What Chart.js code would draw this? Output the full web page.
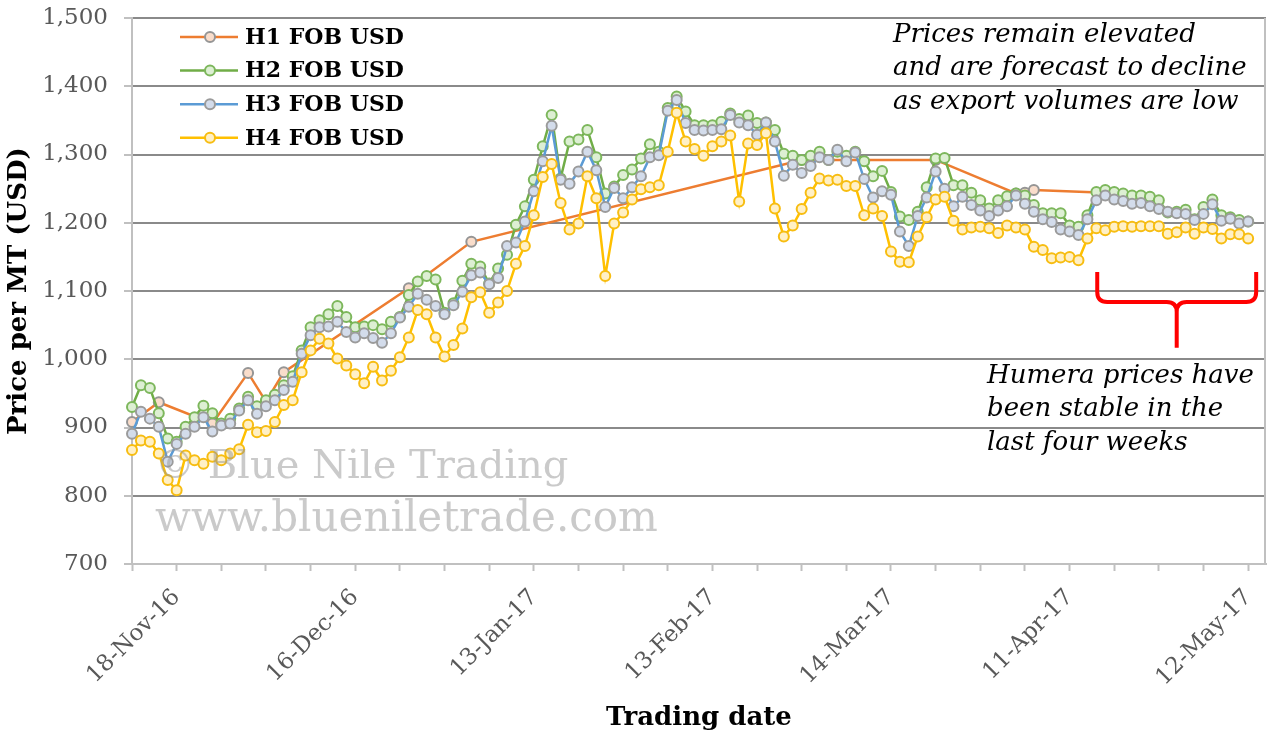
<!DOCTYPE html>
<html lang="en">
<head>
<meta charset="UTF-8">
<title>Humera sesame FOB prices</title>
<script src="https://cdn.jsdelivr.net/npm/chart.js"></script>
<style>
  html, body { margin: 0; padding: 0; background: #fff; }
  #wrap { width: 1273px; height: 738px; }
</style>
</head>
<body>
<div id="wrap"><canvas id="priceChart" width="1273" height="738"></canvas></div>
<script>
// trading day index 0 = 11-Nov-16, one slot per trading day
const lastDay = 127;
const tickMarks = [0, 5, 10, 15, 20, 25, 30, 35, 40, 45, 50, 55, 60, 65, 70, 75, 80, 85, 90, 95, 100, 105, 110, 115, 120, 125];
const tickDays = [5, 25, 45, 65, 85, 105, 125];
const tickLabels = ['18-Nov-16', '16-Dec-16', '13-Jan-17', '13-Feb-17', '14-Mar-17', '11-Apr-17', '12-May-17'];

const seriesNames = ['H1 FOB USD', 'H2 FOB USD', 'H3 FOB USD', 'H4 FOB USD'];

// H1 only trades on some days
const h1Days = [0, 3, 9, 13, 15, 17, 31, 38, 75, 90, 99, 100, 101, 109];
const h1 = [908, 937, 906, 980, 938, 981, 1104, 1172, 1292, 1292, 1243, 1244, 1248, 1244];

const h2 = [
  930, 962, 958, 921, 884, 879, 901, 915, 932, 921,
  906, 913, 928, 945, 931, 940, 948, 962, 975, 1013,
  1047, 1057, 1066, 1078, 1062, 1047, 1048, 1050, 1044, 1055,
  1062, 1094, 1114, 1122, 1117, 1068, 1082, 1115, 1140, 1136,
  1111, 1133, 1153, 1197, 1224, 1263, 1312, 1358, 1265, 1319,
  1322, 1336, 1296, 1243, 1253, 1270, 1278, 1294, 1315, 1304,
  1368, 1385, 1363, 1343, 1343, 1343, 1348, 1360, 1352, 1357,
  1346, 1347, 1336, 1301, 1298, 1292, 1298, 1304, 1292, 1304,
  1298, 1304, 1290, 1268, 1276, 1245, 1209, 1204, 1216, 1252,
  1294, 1295, 1255, 1255, 1244, 1233, 1221, 1233, 1239, 1243,
  1240, 1226, 1214, 1214, 1214, 1196, 1194, 1211, 1245, 1248,
  1245, 1243, 1240, 1240, 1238, 1233, 1215, 1216, 1219, 1205,
  1223, 1234, 1211, 1208, 1204, 1202
];

const h3 = [
  891, 923, 913, 901, 850, 876, 891, 901, 915, 894,
  903, 906, 925, 940, 920, 931, 940, 955, 967, 1008,
  1035, 1047, 1048, 1055, 1040, 1032, 1038, 1031, 1024, 1038,
  1061, 1077, 1096, 1087, 1078, 1066, 1079, 1099, 1123, 1127,
  1110, 1119, 1166, 1171, 1202, 1246, 1290, 1342, 1263, 1257,
  1275, 1304, 1277, 1223, 1251, 1236, 1252, 1268, 1296, 1299,
  1364, 1380, 1346, 1336, 1335, 1336, 1337, 1358, 1347, 1343,
  1329, 1347, 1319, 1269, 1285, 1273, 1283, 1296, 1292, 1307,
  1290, 1303, 1264, 1237, 1246, 1241, 1187, 1166, 1210, 1237,
  1275, 1250, 1224, 1238, 1226, 1218, 1210, 1218, 1224, 1240,
  1228, 1216, 1205, 1201, 1190, 1187, 1182, 1205, 1233, 1240,
  1234, 1232, 1228, 1229, 1224, 1220, 1216, 1214, 1213, 1204,
  1213, 1227, 1203, 1206, 1199, 1202
];

const h4 = [
  867, 881, 879, 862, 823, 808, 859, 852, 847, 857,
  852, 862, 868, 904, 893, 895, 908, 933, 940, 981,
  1013, 1030, 1023, 1001, 991, 978, 965, 989, 969, 983,
  1003, 1032, 1072, 1066, 1032, 1004, 1021, 1045, 1091, 1098,
  1068, 1083, 1100, 1140, 1166, 1211, 1267, 1286, 1229, 1190,
  1199, 1268, 1236, 1122, 1199, 1215, 1234, 1249, 1252, 1255,
  1304, 1361, 1319, 1308, 1298, 1312, 1319, 1328, 1231, 1316,
  1314, 1331, 1221, 1180, 1196, 1220, 1244, 1265, 1262, 1263,
  1254, 1254, 1211, 1221, 1210, 1158, 1143, 1142, 1180, 1208,
  1234, 1238, 1203, 1190, 1193, 1194, 1192, 1185, 1196, 1193,
  1190, 1165, 1160, 1148, 1149, 1150, 1145, 1177, 1192, 1189,
  1194, 1195, 1194, 1195, 1195, 1195, 1184, 1186, 1193, 1184,
  1193, 1191, 1177, 1183, 1183, 1177
];

const noteTop = ['Prices remain elevated', 'and are forecast to decline', 'as export volumes are low'];
const noteBottom = ['Humera prices have', 'been stable in the', 'last four weeks'];
const watermark = ['\u00A9 Blue Nile Trading', 'www.blueniletrade.com'];

const serif = '"DejaVu Serif", Georgia, serif';

const styles = [
  { line: '#ED7D31', fill: '#F9DDCB', edge: '#959595' },
  { line: '#70AD47', fill: '#DDEFD3', edge: '#7DB75C' },
  { line: '#5B9BD5', fill: '#D3DCEB', edge: '#9B9B9B' },
  { line: '#FFC000', fill: '#FFF0C6', edge: '#F7BD12' }
];

function toPoints(days, values) {
  return values.map((v, k) => ({ x: days ? days[k] : k, y: v }));
}

function makeSet(k, points) {
  return {
    label: seriesNames[k],
    data: points,
    borderColor: styles[k].line,
    backgroundColor: styles[k].fill,
    pointBackgroundColor: styles[k].fill,
    pointBorderColor: styles[k].edge,
    pointBorderWidth: 2,
    pointRadius: 5,
    borderWidth: 2.5,
    tension: 0,
    spanGaps: true,
    clip: false,
    order: 4 - k
  };
}

// legend, notes, watermark, brace and right border
const decor = {
  id: 'decor',
  afterDatasetsDraw(chart) {
    const ctx = chart.ctx;
    const area = chart.chartArea;
    const xs = chart.scales.x;
    const ys = chart.scales.y;
    ctx.save();

    ctx.strokeStyle = '#c0c0c0';
    ctx.lineWidth = 2;
    ctx.beginPath();
    ctx.moveTo(area.right - 1, area.top);
    ctx.lineTo(area.right - 1, area.bottom);
    ctx.stroke();

    ctx.fillStyle = 'rgba(150,150,150,0.5)';
    ctx.textAlign = 'left';
    ctx.textBaseline = 'alphabetic';
    ctx.font = '40px ' + serif;
    ctx.fillText(watermark[0], area.left + 23, 478);
    ctx.font = '42px ' + serif;
    ctx.fillText(watermark[1], area.left + 23, 531);

    ctx.fillStyle = '#000';
    ctx.font = 'italic 26px ' + serif;
    ctx.textBaseline = 'middle';
    noteTop.forEach((t, i) => ctx.fillText(t, 893, 35 + i * 33.5));
    noteBottom.forEach((t, i) => ctx.fillText(t, 987, 376 + i * 33.5));

    // red brace over the last four weeks
    const xl = xs.getPixelForValue(108.1);
    const xr = xs.getPixelForValue(125.9);
    const xm = xs.getPixelForValue(117);
    const yt = ys.getPixelForValue(1128);
    const yb = ys.getPixelForValue(1084);
    const yp = ys.getPixelForValue(1017);
    const r = 10;
    ctx.strokeStyle = '#FF0000';
    ctx.lineWidth = 4;
    ctx.lineJoin = 'round';
    ctx.beginPath();
    ctx.moveTo(xl, yt);
    ctx.lineTo(xl, yb - r);
    ctx.quadraticCurveTo(xl, yb, xl + r, yb);
    ctx.lineTo(xm - r, yb);
    ctx.quadraticCurveTo(xm, yb, xm, yb + r);
    ctx.lineTo(xm, yp);
    ctx.moveTo(xm, yb + r);
    ctx.quadraticCurveTo(xm, yb, xm + r, yb);
    ctx.lineTo(xr - r, yb);
    ctx.quadraticCurveTo(xr, yb, xr, yb - r);
    ctx.lineTo(xr, yt);
    ctx.stroke();

    // legend inside the plot
    const lx = area.left + 48;
    ctx.font = 'bold 22px ' + serif;
    seriesNames.forEach((name, k) => {
      const y = area.top + 19 + k * 33.6;
      ctx.strokeStyle = styles[k].line;
      ctx.lineWidth = 2.5;
      ctx.beginPath();
      ctx.moveTo(lx, y);
      ctx.lineTo(lx + 58, y);
      ctx.stroke();
      ctx.beginPath();
      ctx.arc(lx + 30, y, 5, 0, Math.PI * 2);
      ctx.fillStyle = styles[k].fill;
      ctx.fill();
      ctx.lineWidth = 2;
      ctx.strokeStyle = styles[k].edge;
      ctx.stroke();
      ctx.fillStyle = '#000';
      ctx.fillText(name, lx + 65, y + 1);
    });
    ctx.restore();
  }
};

new Chart('priceChart', {
  type: 'line',
  data: {
    datasets: [
      makeSet(0, toPoints(h1Days, h1)),
      makeSet(1, toPoints(null, h2)),
      makeSet(2, toPoints(null, h3)),
      makeSet(3, toPoints(null, h4))
    ]
  },
  options: {
    responsive: false,
    animation: false,
    layout: { padding: { left: 0, right: 7, top: 18, bottom: 4 } },
    plugins: { legend: { display: false }, tooltip: { enabled: false } },
    scales: {
      x: {
        type: 'linear',
        min: 0,
        max: lastDay,
        afterBuildTicks: (s) => { s.ticks = tickMarks.map(v => ({ value: v })); },
        afterFit: (s) => { s.height = 170; s.paddingLeft = 0; s.paddingRight = 0; },
        ticks: {
          autoSkip: false,
          minRotation: 45,
          maxRotation: 45,
          padding: 13,
          color: '#595959',
          font: { family: serif, size: 23 },
          callback: (v) => {
            const k = tickDays.indexOf(v);
            return k >= 0 ? tickLabels[k] : '';
          }
        },
        grid: { drawOnChartArea: false, drawTicks: true, tickLength: 7, tickColor: '#c0c0c0', tickWidth: 2 },
        border: { color: '#c0c0c0', width: 2 },
        title: {
          display: true,
          text: 'Trading date',
          color: '#000',
          font: { family: serif, size: 26, weight: 'bold' },
          padding: { top: 4, bottom: 0 }
        }
      },
      y: {
        min: 700,
        max: 1500,
        afterFit: (s) => { s.width = 132; s.paddingTop = 0; s.paddingBottom = 0; },
        ticks: {
          stepSize: 100,
          padding: 16,
          color: '#595959',
          font: { family: serif, size: 23 },
          callback: (v) => v.toLocaleString('en-US')
        },
        grid: {
          color: (c) => (c.tick && c.tick.value === 700 ? 'rgba(0,0,0,0)' : '#8a8a8a'),
          lineWidth: 2,
          tickLength: 8,
          tickColor: '#c0c0c0',
          tickWidth: 2
        },
        border: { color: '#c0c0c0', width: 2 },
        title: {
          display: true,
          text: 'Price per MT (USD)',
          color: '#000',
          font: { family: serif, size: 26, weight: 'bold' },
          padding: { top: 4, bottom: 0 }
        }
      }
    }
  },
  plugins: [decor]
});
</script>
</body>
</html>
